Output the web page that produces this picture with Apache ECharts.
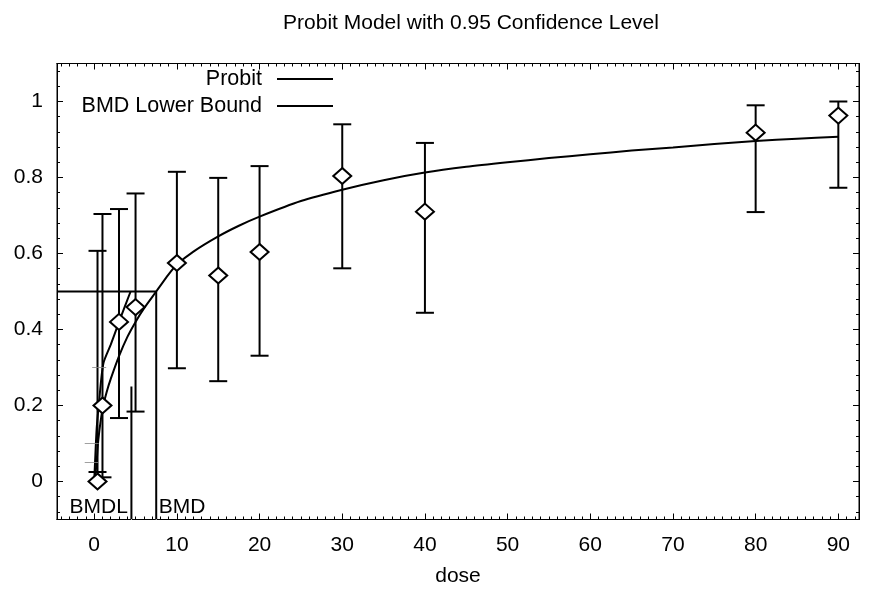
<!DOCTYPE html>
<html><head><meta charset="utf-8">
<script src="https://cdn.jsdelivr.net/npm/echarts@6/dist/echarts.min.js"></script>
<style>html,body{margin:0;padding:0;background:#fff}#c{width:871px;height:598px}</style>
</head><body><div id="c"></div>
<script>
const FONT = "'Liberation Sans',Arial,sans-serif";

// observed data points
const doses     = [0.4, 1, 3, 5, 10, 15, 20, 30, 40, 80, 90];
const responses = [0.0, 0.2, 0.42, 0.459, 0.575, 0.542, 0.604, 0.804, 0.71, 0.918, 0.963];
const ciLower   = [0.025, 0.011, 0.167, 0.184, 0.298, 0.264, 0.331, 0.561, 0.444, 0.709, 0.773];
const ciUpper   = [0.607, 0.704, 0.717, 0.758, 0.815, 0.799, 0.83, 0.94, 0.891, 0.99, 1.0];

// fitted probit curve
const probitDose = [0, 0.25, 0.5, 1, 1.5, 2, 3, 4, 5, 6, 7.5, 9, 10, 12, 15, 17.5, 20, 25, 30, 35, 40, 45, 50, 55, 60, 65, 70, 75, 80, 85, 90];
const probitResp = [0, 0.04, 0.11, 0.19, 0.235, 0.27, 0.33, 0.38, 0.42, 0.455, 0.5, 0.545, 0.571, 0.605, 0.645, 0.673, 0.697, 0.738, 0.768, 0.793, 0.813, 0.828, 0.84, 0.851, 0.861, 0.871, 0.879, 0.888, 0.896, 0.902, 0.907];

// BMD lower bound curve
const lowerDose = [0, 0.1, 0.3, 0.55, 1.1, 2, 3, 4.4];
const lowerResp = [0, 0.05, 0.14, 0.2, 0.31, 0.36, 0.42, 0.5];

// benchmark values
const bmd = 7.5, bmdl = 4.5, bmr = 0.5, bmdlLineTop = 0.25;

// small grey marks near zero dose
const dashDose = [0.6, -0.3, -0.3];
const dashResp = [0.30, 0.10, 0.05];

// axes
const xTickLabels = [0, 10, 20, 30, 40, 50, 60, 70, 80, 90];
const yTickLabels = [0, 0.2, 0.4, 0.6, 0.8, 1];
const xMin = -4.5, xMax = 92.5, yMin = -0.1, yMax = 1.1;

const xMinor = []; for (let v = -4; v <= 92; v++) xMinor.push(v);
const yMinor = []; for (let k = -2; k <= 27; k++) yMinor.push(+(k * 0.04).toFixed(2));

const txt = {color: '#000', fontFamily: FONT, fontSize: 21};

function xAx(pos, major, withLabel) {
  const a = {
    type: 'value', min: xMin, max: xMax, position: pos,
    axisLine: {show: true, onZero: false, lineStyle: {color: '#000', width: 1}},
    splitLine: {show: false},
    axisTick: {show: true, inside: true, length: major ? 6 : 3, customValues: major ? xTickLabels : xMinor, lineStyle: {color: '#000', width: 1}},
    axisLabel: {show: false}
  };
  if (withLabel) {
    a.axisLabel = Object.assign({show: true, customValues: xTickLabels, margin: 15}, txt);
    a.name = 'dose'; a.nameLocation = 'middle'; a.nameGap = 46; a.nameTextStyle = Object.assign({}, txt);
  }
  return a;
}
function yAx(pos, major, withLabel) {
  const a = {
    type: 'value', min: yMin, max: yMax, position: pos,
    axisLine: {show: true, onZero: false, lineStyle: {color: '#000', width: 1}},
    splitLine: {show: false},
    axisTick: {show: true, inside: true, length: major ? 6 : 3, customValues: major ? yTickLabels : yMinor, lineStyle: {color: '#000', width: 1}},
    axisLabel: {show: false}
  };
  if (withLabel) a.axisLabel = Object.assign({show: true, customValues: yTickLabels, margin: 14}, txt);
  return a;
}

const lblStyle = Object.assign({show: true, textBorderWidth: 0, opacity: 1}, txt);

const chart = echarts.init(document.getElementById('c'), null, {renderer: 'canvas'});
chart.setOption({
  backgroundColor: '#fff',
  animation: false,
  title: {text: 'Probit Model with 0.95 Confidence Level', left: 466, top: 8, textAlign: 'center',
          textStyle: Object.assign({fontWeight: 'normal'}, txt)},
  legend: {orient: 'vertical', align: 'right', right: 533, top: 63, itemWidth: 56, itemHeight: 2, itemGap: 5,
           icon: 'rect', selectedMode: false, data: ['Probit', 'BMD Lower Bound'],
           textStyle: Object.assign({padding: [0, 10, 0, 0]}, txt, {fontSize: 21.5})},
  grid: {left: 57, right: 12, top: 63.5, bottom: 78.5, show: true, borderColor: '#000', borderWidth: 1, outerBoundsMode: 'none'},
  xAxis: [xAx('bottom', true, true), xAx('bottom', false, false), xAx('top', true, false), xAx('top', false, false)],
  yAxis: [yAx('left', true, true), yAx('left', false, false), yAx('right', true, false), yAx('right', false, false)],
  series: [
    {type: 'custom', name: 'ci', z: 2,
     data: doses.map((d, i) => [d, ciLower[i], ciUpper[i]]),
     renderItem: function (params, api) {
       const x = api.value(0);
       const lo = api.coord([x, api.value(1)]), hi = api.coord([x, api.value(2)]);
       const hw = 9, st = {stroke: '#000', lineWidth: 2};
       return {type: 'group', children: [
         {type: 'line', shape: {x1: lo[0], y1: lo[1], x2: hi[0], y2: hi[1]}, style: st},
         {type: 'line', shape: {x1: lo[0] - hw, y1: lo[1], x2: lo[0] + hw, y2: lo[1]}, style: st},
         {type: 'line', shape: {x1: hi[0] - hw, y1: hi[1], x2: hi[0] + hw, y2: hi[1]}, style: st}
       ]};
     }},
    {type: 'line', name: 'Probit', z: 3, data: probitDose.map((d, i) => [d, probitResp[i]]),
     symbol: 'none', smooth: 0.25, color: '#000', lineStyle: {color: '#000', width: 2}},
    {type: 'line', name: 'BMD Lower Bound', z: 3, data: lowerDose.map((d, i) => [d, lowerResp[i]]),
     symbol: 'none', smooth: 0.25, color: '#000', lineStyle: {color: '#000', width: 2}},
    {type: 'line', name: 'bmdLine', z: 3, data: [[xMin, bmr], [bmd, bmr], [bmd, yMin]],
     symbol: 'none', lineStyle: {color: '#000', width: 2}},
    {type: 'line', name: 'bmdlLine', z: 3, data: [[bmdl, yMin], [bmdl, bmdlLineTop]],
     symbol: 'none', lineStyle: {color: '#000', width: 2}},
    {type: 'scatter', name: 'dash', z: 3, data: dashDose.map((d, i) => [d, dashResp[i]]),
     symbol: 'rect', symbolSize: [14, 1], itemStyle: {color: '#888'}},
    {type: 'scatter', name: 'obs', z: 4, data: doses.map((d, i) => [d, responses[i]]),
     symbol: 'diamond', symbolSize: [18, 16], itemStyle: {color: '#fff', borderColor: '#000', borderWidth: 2, opacity: 1}},
    {type: 'scatter', name: 'lbl', z: 5, data: [[bmdl, yMin]], symbolSize: 1, itemStyle: {color: '#fff', opacity: 1},
     label: Object.assign({formatter: 'BMDL', position: 'left', distance: 3, offset: [0, -12]}, lblStyle)},
    {type: 'scatter', name: 'lbl2', z: 5, data: [[bmd, yMin]], symbolSize: 1, itemStyle: {color: '#fff', opacity: 1},
     label: Object.assign({formatter: 'BMD', position: 'right', distance: 2, offset: [0, -12]}, lblStyle)}
  ]
});
</script></body></html>
